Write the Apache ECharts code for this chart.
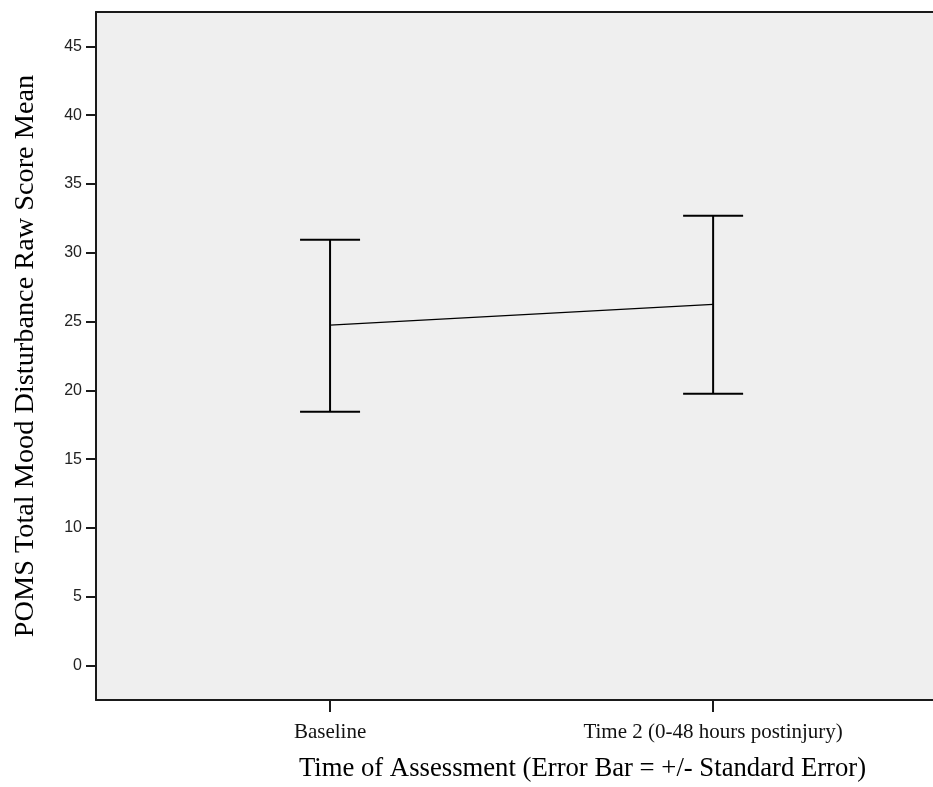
<!DOCTYPE html>
<html>
<head>
<meta charset="utf-8">
<title>POMS Total Mood Disturbance</title>
<script src="https://cdn.jsdelivr.net/npm/echarts@6/dist/echarts.min.js"></script>
<style>
  html, body { margin: 0; padding: 0; background: #fff; }
  #chart { width: 933px; height: 787px; }
</style>
</head>
<body>
<div id="chart"></div>
<script>
// data
const xPositions = [1, 2];
const xLabels = ['Baseline', 'Time 2 (0-48 hours postinjury)'];
const means = [24.75, 26.25];
const upperSE = [30.95, 32.7];
const lowerSE = [18.45, 19.75];
const yTicks = [0, 5, 10, 15, 20, 25, 30, 35, 40, 45];

const chart = echarts.init(document.getElementById('chart'));

// error bars: vertical stem plus caps
function renderErrorBar(params, api) {
  const x = api.value(0);
  const top = api.coord([x, api.value(1)]);
  const bot = api.coord([x, api.value(2)]);
  const half = 30;
  const style = { stroke: '#000', lineWidth: 2 };
  return {
    type: 'group',
    children: [
      { type: 'line', shape: { x1: top[0], y1: top[1], x2: bot[0], y2: bot[1] }, style: style },
      { type: 'line', shape: { x1: top[0] - half, y1: top[1], x2: top[0] + half, y2: top[1] }, style: style },
      { type: 'line', shape: { x1: bot[0] - half, y1: bot[1], x2: bot[0] + half, y2: bot[1] }, style: style }
    ]
  };
}

const axisColor = '#1a1a1a';

const option = {
  animation: false,
  backgroundColor: '#fff',
  grid: {
    left: 96,
    top: 12,
    bottom: 87,
    right: 0,
    show: true,
    backgroundColor: '#efefef',
    borderWidth: 0
  },
  xAxis: [
    {
      type: 'value',
      min: 0.389,
      max: 2.574,
      name: 'Time of Assessment (Error Bar = +/- Standard Error)',
      nameLocation: 'middle',
      nameGap: 55,
      // shift the name to the right so it sits where the reference puts it
      nameTextStyle: { fontFamily: 'Liberation Serif', fontSize: 26.7, color: '#000', padding: [0, 0, 0, 136] },
      axisLine: { onZero: false, lineStyle: { color: axisColor, width: 2 } },
      axisTick: { show: true, length: 12, customValues: xPositions, lineStyle: { color: axisColor, width: 2 } },
      axisLabel: {
        customValues: xPositions,
        margin: 22,
        fontFamily: 'Liberation Serif',
        fontSize: 21,
        color: '#111',
        formatter: function (v) { return xLabels[xPositions.indexOf(v)]; }
      },
      splitLine: { show: false }
    },
    {
      // top frame line only
      type: 'value',
      position: 'top',
      min: 0.389,
      max: 2.574,
      axisLine: { show: true, onZero: false, lineStyle: { color: axisColor, width: 2 } },
      axisTick: { show: false },
      axisLabel: { show: false },
      splitLine: { show: false }
    }
  ],
  yAxis: {
    type: 'value',
    min: -2.5,
    max: 47.5,
    name: 'POMS Total Mood Disturbance Raw Score Mean',
    nameLocation: 'middle',
    nameGap: 56,
    nameTextStyle: { fontFamily: 'Liberation Serif', fontSize: 28.3, color: '#000' },
    axisLine: { show: true, onZero: false, lineStyle: { color: axisColor, width: 2 } },
    axisTick: { show: true, length: 10, customValues: yTicks, lineStyle: { color: axisColor, width: 2 } },
    axisLabel: {
      customValues: yTicks,
      margin: 14,
      fontFamily: 'Liberation Sans',
      fontSize: 16,
      color: '#222'
    },
    splitLine: { show: false }
  },
  series: [
    {
      type: 'line',
      data: xPositions.map((x, i) => [x, means[i]]),
      symbol: 'none',
      lineStyle: { color: '#000', width: 1.3 },
      z: 3
    },
    {
      type: 'custom',
      data: xPositions.map((x, i) => [x, upperSE[i], lowerSE[i]]),
      renderItem: renderErrorBar,
      z: 4
    }
  ]
};

chart.setOption(option);
</script>
</body>
</html>
